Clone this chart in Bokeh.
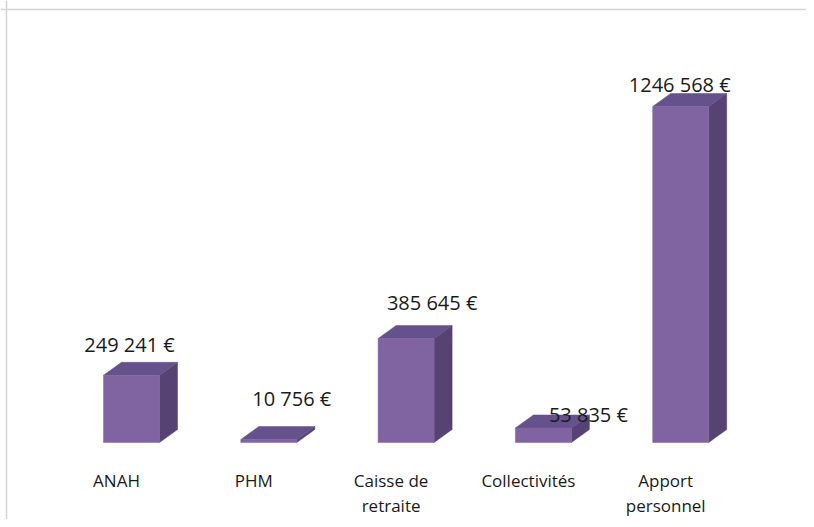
import numpy as np
from bokeh.plotting import figure
from bokeh.models import Range1d, ColumnDataSource, Span
from bokeh.core.properties import value
from bokeh.embed import file_html
from bokeh.resources import INLINE

# ---- data ----
categories = ["ANAH", "PHM", "Caisse de\nretraite", "Collectivités", "Apport\npersonnel"]
amounts = [249241, 10756, 385645, 53835, 1246568]
value_labels = ["249 241 €", "10 756 €", "385 645 €", "53 835 €", "1246 568 €"]

# ---- style / layout ----
W, H = 806, 519
CAT_PX = 137.3          # pixels between categories
FIRST_PX = 131          # pixel x of first category in frame
EUR_PER_PX = 3710.0
BASE_FROM_BOTTOM = 77   # baseline pixel distance from bottom
BAR_W = 0.408
DEPTH_X_PX, DEPTH_Y_PX = 18, 13
label_dx = [-2, 23, 26, 45, -1]
label_dy = [-31, -41, -36, -13, -22]
FRONT, TOP, SIDE = "#8064A2", "#65518B", "#564373"

x_start = -FIRST_PX / CAT_PX
x_end = x_start + W / CAT_PX
y_start = -BASE_FROM_BOTTOM * EUR_PER_PX
y_end = y_start + H * EUR_PER_PX

p = figure(width=W, height=H, output_backend="svg", toolbar_location=None,
           x_range=Range1d(x_start, x_end), y_range=Range1d(y_start, y_end),
           x_axis_type=None, y_axis_type=None, min_border=0,
           background_fill_color="white", border_fill_color="white")
p.outline_line_color = None
p.grid.visible = False

xs = np.arange(len(categories), dtype=float)
vals = np.array(amounts, dtype=float)
hw = BAR_W / 2
dxu = DEPTH_X_PX * (x_end - x_start) / W
dyu = DEPTH_Y_PX * (y_end - y_start) / H
px_x = (x_end - x_start) / W
px_y = (y_end - y_start) / H

side_xs = [[x + hw, x + hw + dxu, x + hw + dxu, x + hw] for x in xs]
side_ys = [[0, dyu, v + dyu, v] for v in vals]
top_xs = [[x - hw, x + hw, x + hw + dxu, x - hw + dxu] for x in xs]
top_ys = [[v, v, v + dyu, v + dyu] for v in vals]

p.patches(side_xs, side_ys, fill_color=SIDE, line_color=SIDE, line_width=0.5)
p.patches(top_xs, top_ys, fill_color=TOP, line_color=TOP, line_width=0.5)
p.quad(left=xs - hw, right=xs + hw, bottom=0, top=vals,
       fill_color=FRONT, line_color=FRONT, line_width=0.5)

src = ColumnDataSource(dict(x=xs, y=vals, t=value_labels, dx=label_dx, dy=label_dy,
                            zero=np.zeros(len(xs)), cat=categories))
p.text(x="x", y="y", text="t", x_offset="dx", y_offset="dy", source=src,
       text_font=value("Open Sans"), text_font_size="20px", text_color="#1a1a1a",
       text_align="center", text_baseline="middle")
p.text(x="x", y="zero", text="cat", x_offset=-15, y_offset=26, source=src,
       text_font=value("Open Sans"), text_font_size="17px", text_color="#1a1a1a",
       text_align="center", text_baseline="top", text_line_height=1.1)

# chart-area border (top and left edges, as in the reference)
p.add_layout(Span(location=y_end - 9 * px_y, dimension="width", line_color="#d4d4d4", line_width=1.5))
p.add_layout(Span(location=x_start + 6 * px_x, dimension="height", line_color="#d4d4d4", line_width=1.5))

open("out.html", "w").write(file_html(p, INLINE))
